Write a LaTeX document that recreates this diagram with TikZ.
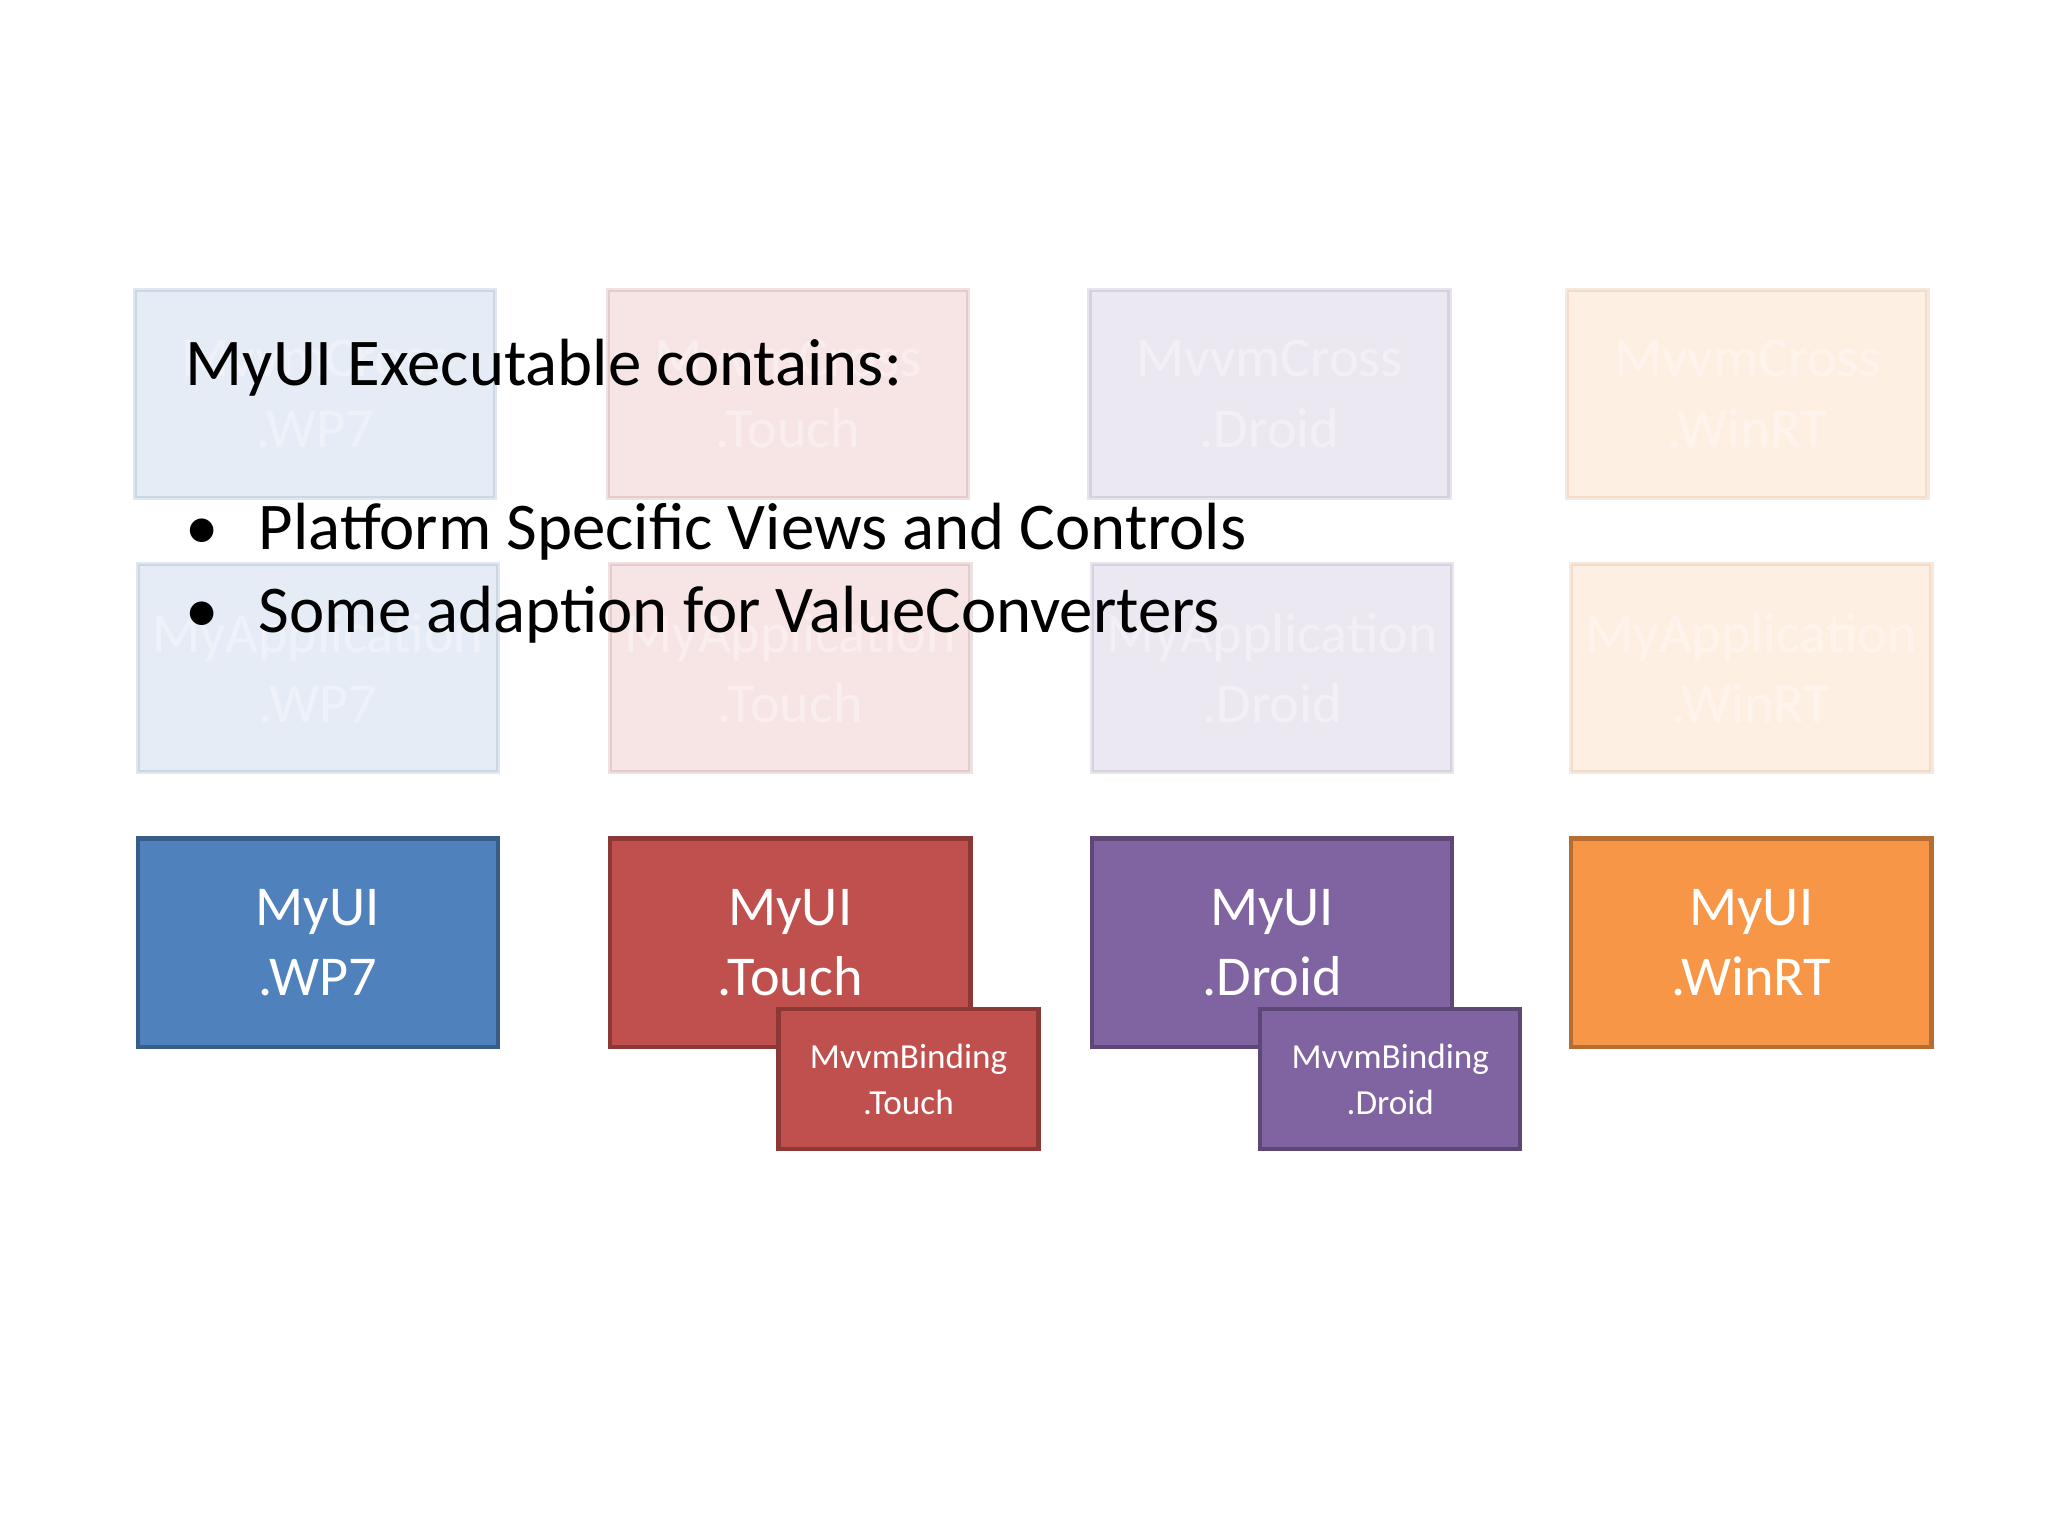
\documentclass[tikz,border=0pt]{standalone}
\usepackage{fontspec}
\setmainfont{Carlito}
\definecolor{wpblue}{HTML}{4F81BD}\definecolor{wpline}{HTML}{385D8A}
\definecolor{tred}{HTML}{C0504D}\definecolor{tline}{HTML}{8C3836}
\definecolor{dpurple}{HTML}{8064A2}\definecolor{dline}{HTML}{5C4776}
\definecolor{worange}{HTML}{F79646}\definecolor{wline}{HTML}{B66D31}
\tikzset{
  box/.style 2 args={draw=#2, fill=#1, line width=1.2pt, text width=3.5cm, inner sep=0pt,
    minimum width=3.6cm, minimum height=2.08cm, text=white,
    font=\fontsize{16}{20}\selectfont, align=center},
  faded/.style={opacity=0.15, text opacity=0.35},
  binding/.style={text width=2.5cm, minimum width=2.6cm, minimum height=1.4cm,
    font=\fontsize{10}{13}\selectfont}
}
\begin{document}
\begin{tikzpicture}[x=0.01313cm, y=-0.01313cm]
  \useasboundingbox (0,0) rectangle (1560,1170);
  % faded rows
  \node[box={wpblue}{wpline}, faded] (crosswp) at (240,300) {MvvmCross\\.WP7};
  \node[box={tred}{tline}, faded] (crosstouch) at (600,300) {MvvmCross\\.Touch};
  \node[box={dpurple}{dline}, faded] (crossdroid) at (967,300) {MvvmCross\\.Droid};
  \node[box={worange}{wline}, faded] (crosswinrt) at (1331,300) {MvvmCross\\.WinRT};
  \node[box={wpblue}{wpline}, faded] (appwp) at (242,509) {MyApplication\\.WP7};
  \node[box={tred}{tline}, faded] (apptouch) at (602,509) {MyApplication\\.Touch};
  \node[box={dpurple}{dline}, faded] (appdroid) at (969,509) {MyApplication\\.Droid};
  \node[box={worange}{wline}, faded] (appwinrt) at (1334,509) {MyApplication\\.WinRT};
  % ui row
  \node[box={wpblue}{wpline}] (uiwp) at (242,718) {MyUI\\.WP7};
  \node[box={tred}{tline}] (uitouch) at (602,718) {MyUI\\.Touch};
  \node[box={dpurple}{dline}] (uidroid) at (969,718) {MyUI\\.Droid};
  \node[box={worange}{wline}] (uiwinrt) at (1334,718) {MyUI\\.WinRT};
  \node[box={tred}{tline}, binding] (bindtouch) at (692,822) {MvvmBinding\\.Touch};
  \node[box={dpurple}{dline}, binding] (binddroid) at (1059,822) {MvvmBinding\\.Droid};
  % text
  \node[anchor=west, font=\fontsize{19}{23}\selectfont] (title) at (132,280) {MyUI Executable contains:};
  \node[anchor=west, font=\fontsize{19}{23}\selectfont] (item1) at (132,405) {\textbullet\hspace{0.4cm}Platform Specific Views and Controls};
  \node[anchor=west, font=\fontsize{19}{23}\selectfont] (item2) at (132,468) {\textbullet\hspace{0.4cm}Some adaption for ValueConverters};
\end{tikzpicture}
\end{document}
